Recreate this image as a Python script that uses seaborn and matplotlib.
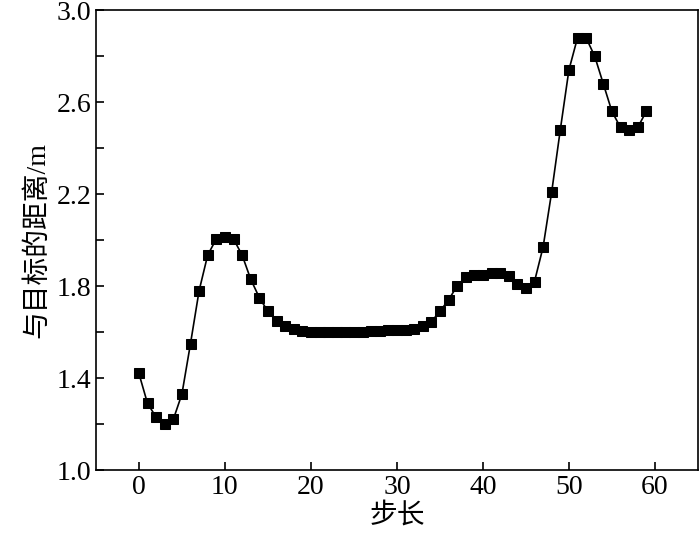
import numpy as np
import pandas as pd
import matplotlib
matplotlib.use("Agg")
import matplotlib.pyplot as plt
from matplotlib.ticker import MultipleLocator
import seaborn as sns

# values
steps = list(range(60))
distance = [1.42, 1.29, 1.23, 1.20, 1.22, 1.33, 1.55, 1.78, 1.935, 2.005,
            2.015, 2.005, 1.935, 1.83, 1.75, 1.69, 1.648, 1.625, 1.612, 1.605,
            1.600, 1.600, 1.600, 1.600, 1.600, 1.600, 1.602, 1.604, 1.606, 1.607,
            1.608, 1.610, 1.615, 1.625, 1.645, 1.69, 1.74, 1.80, 1.84, 1.848,
            1.850, 1.855, 1.855, 1.845, 1.81, 1.79, 1.82, 1.97, 2.21, 2.48,
            2.74, 2.88, 2.88, 2.80, 2.68, 2.56, 2.49, 2.48, 2.49, 2.56]
y_ticks = [1.0, 1.4, 1.8, 2.2, 2.6, 3.0]
x_ticks = [0, 10, 20, 30, 40, 50, 60]

df = pd.DataFrame({'step': steps, 'dist': distance})

sns.set_style('ticks', {'axes.edgecolor': 'black', 'xtick.color': 'black',
                        'ytick.color': 'black', 'text.color': 'black',
                        'axes.labelcolor': 'black'})
plt.rcParams['font.family'] = ['Liberation Serif', 'Noto Sans CJK SC']

fig = plt.figure(figsize=(7, 5.39), dpi=100)
ax = fig.add_axes([0.137, 0.128, 0.860, 0.853])

sns.lineplot(data=df, x='step', y='dist', ax=ax, color='black', linewidth=1.2,
             marker='s', markersize=7.8, markeredgecolor='black', markerfacecolor='black')

ax.set_xlim(-5, 65)
ax.set_ylim(1.0, 3.0)
ax.set_xticks(x_ticks)
ax.set_yticks(y_ticks)
ax.set_yticklabels([f'{v:.1f}' for v in y_ticks])
ax.yaxis.set_minor_locator(MultipleLocator(0.2))
ax.tick_params(axis='both', direction='in', labelsize=20, length=6, width=1.2)
ax.tick_params(axis='y', which='minor', direction='in', length=6, width=1.2)
for s in ax.spines.values():
    s.set_linewidth(1.2)

ax.set_xlabel('步长', fontsize=20, labelpad=2)
ax.set_ylabel('与目标的距离/m', fontsize=20, labelpad=4)

fig.savefig('out.png', dpi=100)
